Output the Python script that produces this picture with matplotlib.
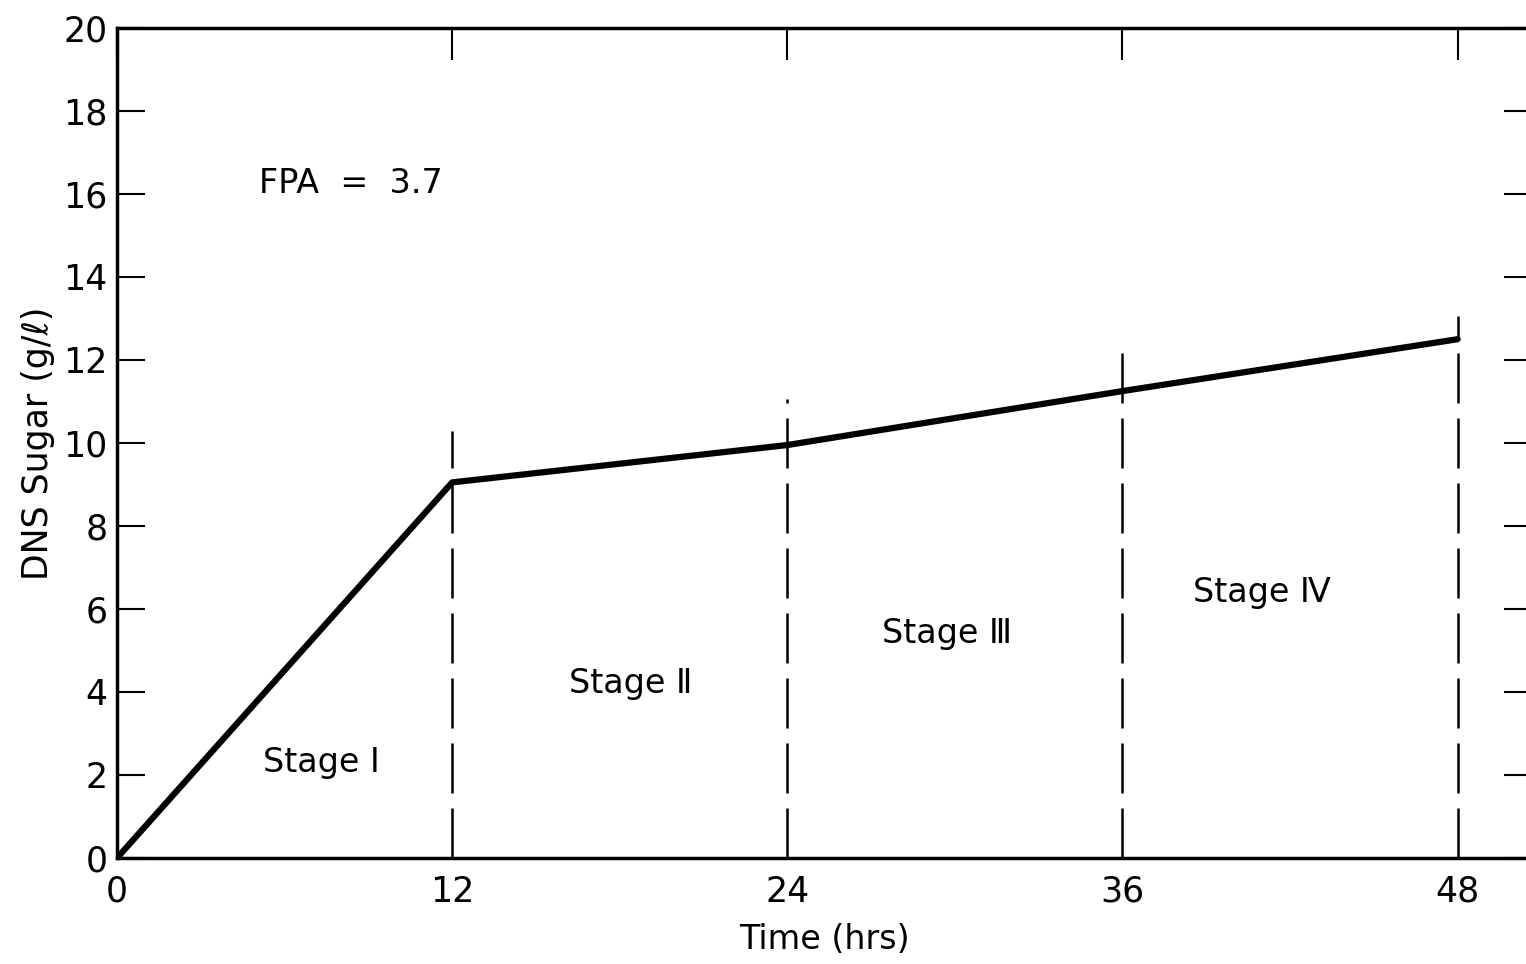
import matplotlib
matplotlib.use('Agg')
import matplotlib.pyplot as plt

# data
time_hrs = [0, 12, 24, 36, 48]
sugar = [0, 9.05, 9.95, 11.25, 12.5]

# stage boundaries and how far up each dashed line reaches
boundary_x = [12, 24, 36, 48]
boundary_top = [10.3, 11.05, 12.25, 13.05]

stage_labels = ['Stage Ⅰ', 'Stage Ⅱ', 'Stage Ⅲ', 'Stage Ⅳ']
stage_x = [7.3, 18.4, 29.7, 41.0]
stage_y = [2.3, 4.2, 5.4, 6.4]

xticks = [0, 12, 24, 36, 48]
yticks = list(range(0, 21, 2))

plt.rcParams['font.family'] = ['DejaVu Sans']

fig = plt.figure(figsize=(15.26, 9.64), dpi=100)
ax = fig.add_axes([0.0767, 0.110, 0.927, 0.861])

ax.plot(time_hrs, sugar, color='black', lw=4.5, solid_capstyle='round', zorder=3)

for bx, bt in zip(boundary_x, boundary_top):
    ax.plot([bx, bx], [0, bt], color='black', lw=1.8, dashes=(20, 6), zorder=2)

for lab, sx, sy in zip(stage_labels, stage_x, stage_y):
    ax.text(sx, sy, lab, fontsize=24, ha='center', va='center')

ax.text(5.1, 16.25, 'FPA  =  3.7', fontsize=24, ha='left', va='center')

ax.set_xlim(0, 50.65)
ax.set_ylim(0, 20)
ax.set_xticks(xticks)
ax.set_yticks(yticks)
ax.set_yticklabels([str(v) for v in yticks])

ax.tick_params(axis='y', which='major', direction='in', length=20, width=1.5,
               labelsize=25, pad=7, left=True, right=True)
ax.tick_params(axis='x', which='major', direction='in', length=23, width=1.5,
               labelsize=25, pad=12, top=True, bottom=False)

for s in ax.spines.values():
    s.set_linewidth(2.5)

ax.set_xlabel('Time (hrs)', fontsize=24, labelpad=10)
ax.set_ylabel('DNS Sugar (g/ℓ)', fontsize=25, labelpad=6)

fig.savefig('out.png', dpi=100)
